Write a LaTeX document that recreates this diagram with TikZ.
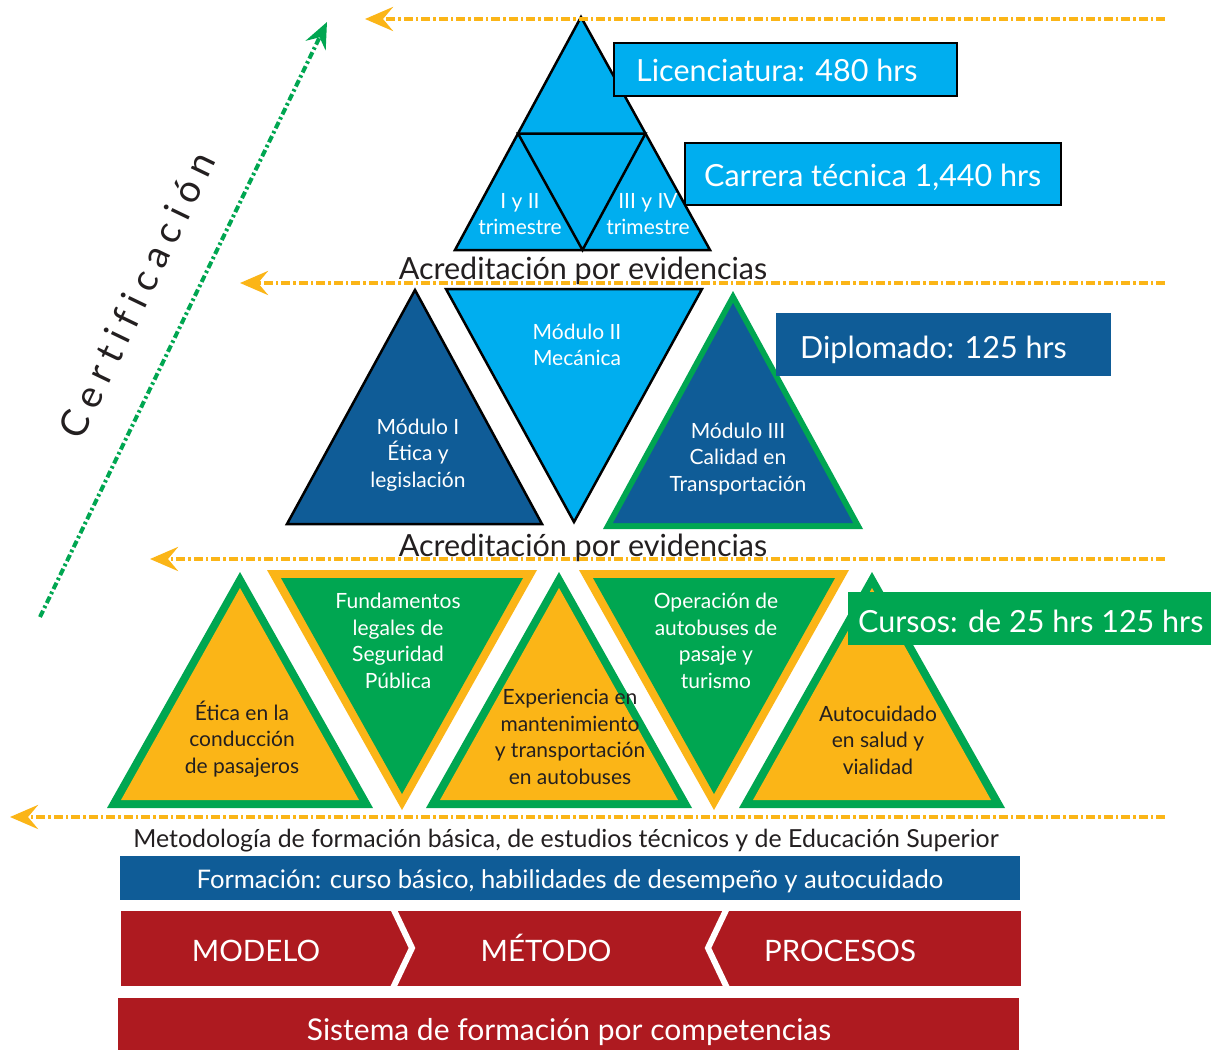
\documentclass[tikz,border=0pt]{standalone}
\usepackage{fontspec}
\setmainfont{Lato}
\newfontfamily\certfont[LetterSpace=22,Ligatures=NoCommon]{Lato}
\usetikzlibrary{arrows.meta}
\definecolor{cyanb}{HTML}{00AEEF}
\definecolor{dblue}{HTML}{0F5C97}
\definecolor{grn}{HTML}{00A651}
\definecolor{org}{HTML}{FBB517}
\definecolor{brick}{HTML}{AE1A20}
\definecolor{ink}{HTML}{231F20}
\begin{document}
\begin{tikzpicture}[x=1pt,y=-1pt,
  tri/.style={draw=black,line width=2.5pt,line join=miter},
  wt/.style={text=white,align=center,inner sep=0pt},
  bt/.style={text=ink,align=center,inner sep=0pt},
  trifont/.style={font=\fontsize{21}{26.5}\selectfont},
  boxfont/.style={font=\fontsize{30.5}{34}\selectfont},
  orgarrow/.style={draw=org,line width=4pt,dash pattern=on 9pt off 3pt on 2.5pt off 3pt,
     -{Stealth[length=28pt,width=24pt,inset=10pt]}},
  certarrow/.style={draw=grn,line width=4pt,dash pattern=on 7pt off 3pt on 2.5pt off 3pt,
     -{Stealth[length=26pt,width=22pt,inset=9pt]}},
  uptri/.pic={
    \fill[grn] (0,572) -- (133,808) -- (-133,808) -- cycle;
    \fill[org] (0,588) -- (119,800) -- (-119,800) -- cycle;},
  dntri/.pic={
    \fill[org] (-135,570) -- (135,570) -- (0,810) -- cycle;
    \fill[grn] (-121,578) -- (121,578) -- (0,794) -- cycle;}
]
\useasboundingbox[fill=white] (0,0) rectangle (1211,1052);

% ---------- top pyramid ----------
\draw[tri,fill=cyanb] (581,17) -- (710,250) -- (455,250) -- cycle;
\draw[tri] (518,133.5) -- (645.5,133.5) -- (582.5,250) -- cycle;
\node[wt,trifont] (tri1) at (520,214) {I y II\\trimestre};
\node[wt,trifont] (tri2) at (648,214) {III y IV\\trimestre};

\draw[black,line width=2.5pt,fill=cyanb] (614,43) rectangle (957,96);
\node[text=white,inner sep=0pt,anchor=base west,boxfont] (lic) at (636,81) {Licenciatura: 480 hrs};
\draw[black,line width=2.5pt,fill=cyanb] (685,143) rectangle (1061,205);
\node[text=white,inner sep=0pt,anchor=base west,boxfont] (car) at (704,186) {Carrera técnica 1,440 hrs};

\node[text=ink,inner sep=0pt,anchor=base,boxfont] (acr1) at (583,279) {Acreditación por evidencias};

% ---------- middle row ----------
\draw[tri,fill=dblue] (415,290) -- (542,524) -- (287,524) -- cycle;
\draw[tri,fill=cyanb] (446,289) -- (702,289) -- (574,522) -- cycle;
\fill[grn] (733,291) -- (863,529) -- (603,529) -- cycle;
\fill[dblue] (733,303) -- (853,523) -- (613,523) -- cycle;
\node[wt,trifont] (m1) at (418,455) {Módulo I\\Ética y\\legislación};
\node[wt,trifont] (m2) at (577,345) {Módulo II\\Mecánica};
\node[wt,trifont] (m3) at (738,459) {Módulo III\\Calidad en\\Transportación};
\fill[dblue] (776,313) rectangle (1111,376);
\node[text=white,inner sep=0pt,anchor=base west,boxfont] (dip) at (800,358) {Diplomado: 125 hrs};

\node[text=ink,inner sep=0pt,anchor=base,boxfont] (acr2) at (583,556) {Acreditación por evidencias};

% ---------- bottom row ----------
\pic at (240,0) {uptri};
\pic at (402,0) {dntri};
\pic at (559,0) {uptri};
\pic at (714,0) {dntri};
\pic at (872,0) {uptri};
\node[bt,trifont] (b1) at (242,739) {Ética en la\\conducción\\de pasajeros};
\node[wt,trifont] (b2) at (398,641) {Fundamentos\\legales de\\Seguridad\\Pública};
\node[bt,trifont] (b3) at (570,737) {Experiencia en\\mantenimiento\\y transportación\\en autobuses};
\node[wt,trifont] (b4) at (716,641) {Operación de\\autobuses de\\pasaje y\\turismo};
\node[bt,trifont] (b5) at (878,740) {Autocuidado\\en salud y\\vialidad};
\fill[grn] (848,592) rectangle (1211,645);
\node[text=white,inner sep=0pt,anchor=base west,boxfont] (cur) at (858,632) {Cursos: de 25 hrs 125 hrs};

% ---------- base ----------
\node[text=ink,inner sep=0pt,anchor=base,font=\fontsize{24.9}{28}\selectfont] (meto) at (566,847) {Metodología de formación básica, de estudios técnicos y de Educación Superior};
\fill[dblue] (120,856) rectangle (1020,900);
\node[text=white,inner sep=0pt,anchor=base,font=\fontsize{25.6}{28}\selectfont] (form) at (570,888) {Formación: curso básico, habilidades de desempeño y autocuidado};
\fill[brick] (121,911) rectangle (1021,986);
\draw[white,line width=6pt,line join=miter] (392,906) -- (412,948) -- (392,990);
\draw[white,line width=6pt,line join=miter] (728,906) -- (708,948) -- (728,990);
\node[text=white,inner sep=0pt,anchor=base,font=\fontsize{29.5}{34}\selectfont] (modelo) at (256,961) {MODELO};
\node[text=white,inner sep=0pt,anchor=base,font=\fontsize{29.5}{34}\selectfont] (metodo) at (546,961) {MÉTODO};
\node[text=white,inner sep=0pt,anchor=base,font=\fontsize{29.5}{34}\selectfont] (procesos) at (840,961) {PROCESOS};
\fill[brick] (118,998) rectangle (1019,1050);
\node[text=white,inner sep=0pt,anchor=base,font=\fontsize{30}{34}\selectfont] (sist) at (569,1040) {Sistema de formación por competencias};

% ---------- arrows ----------
\coordinate (a1s) at (1165,19);  \coordinate (a1e) at (365,19);
\coordinate (a2s) at (1165,283); \coordinate (a2e) at (240,283);
\coordinate (a3s) at (1165,559); \coordinate (a3e) at (150,559);
\coordinate (a4s) at (1165,817); \coordinate (a4e) at (10,817);
\draw[orgarrow] (a1s) -- (a1e);
\draw[orgarrow] (a2s) -- (a2e);
\draw[orgarrow] (a3s) -- (a3e);
\draw[orgarrow] (a4s) -- (a4e);

\coordinate (cs) at (40,617); \coordinate (ce) at (327,22);
\draw[certarrow] (cs) -- (ce);
\node[text=ink,inner sep=0pt,rotate=64.3,font=\certfont\fontsize{38}{42}\selectfont] (cert) at (137,295) {Certificación};
\end{tikzpicture}
\end{document}
